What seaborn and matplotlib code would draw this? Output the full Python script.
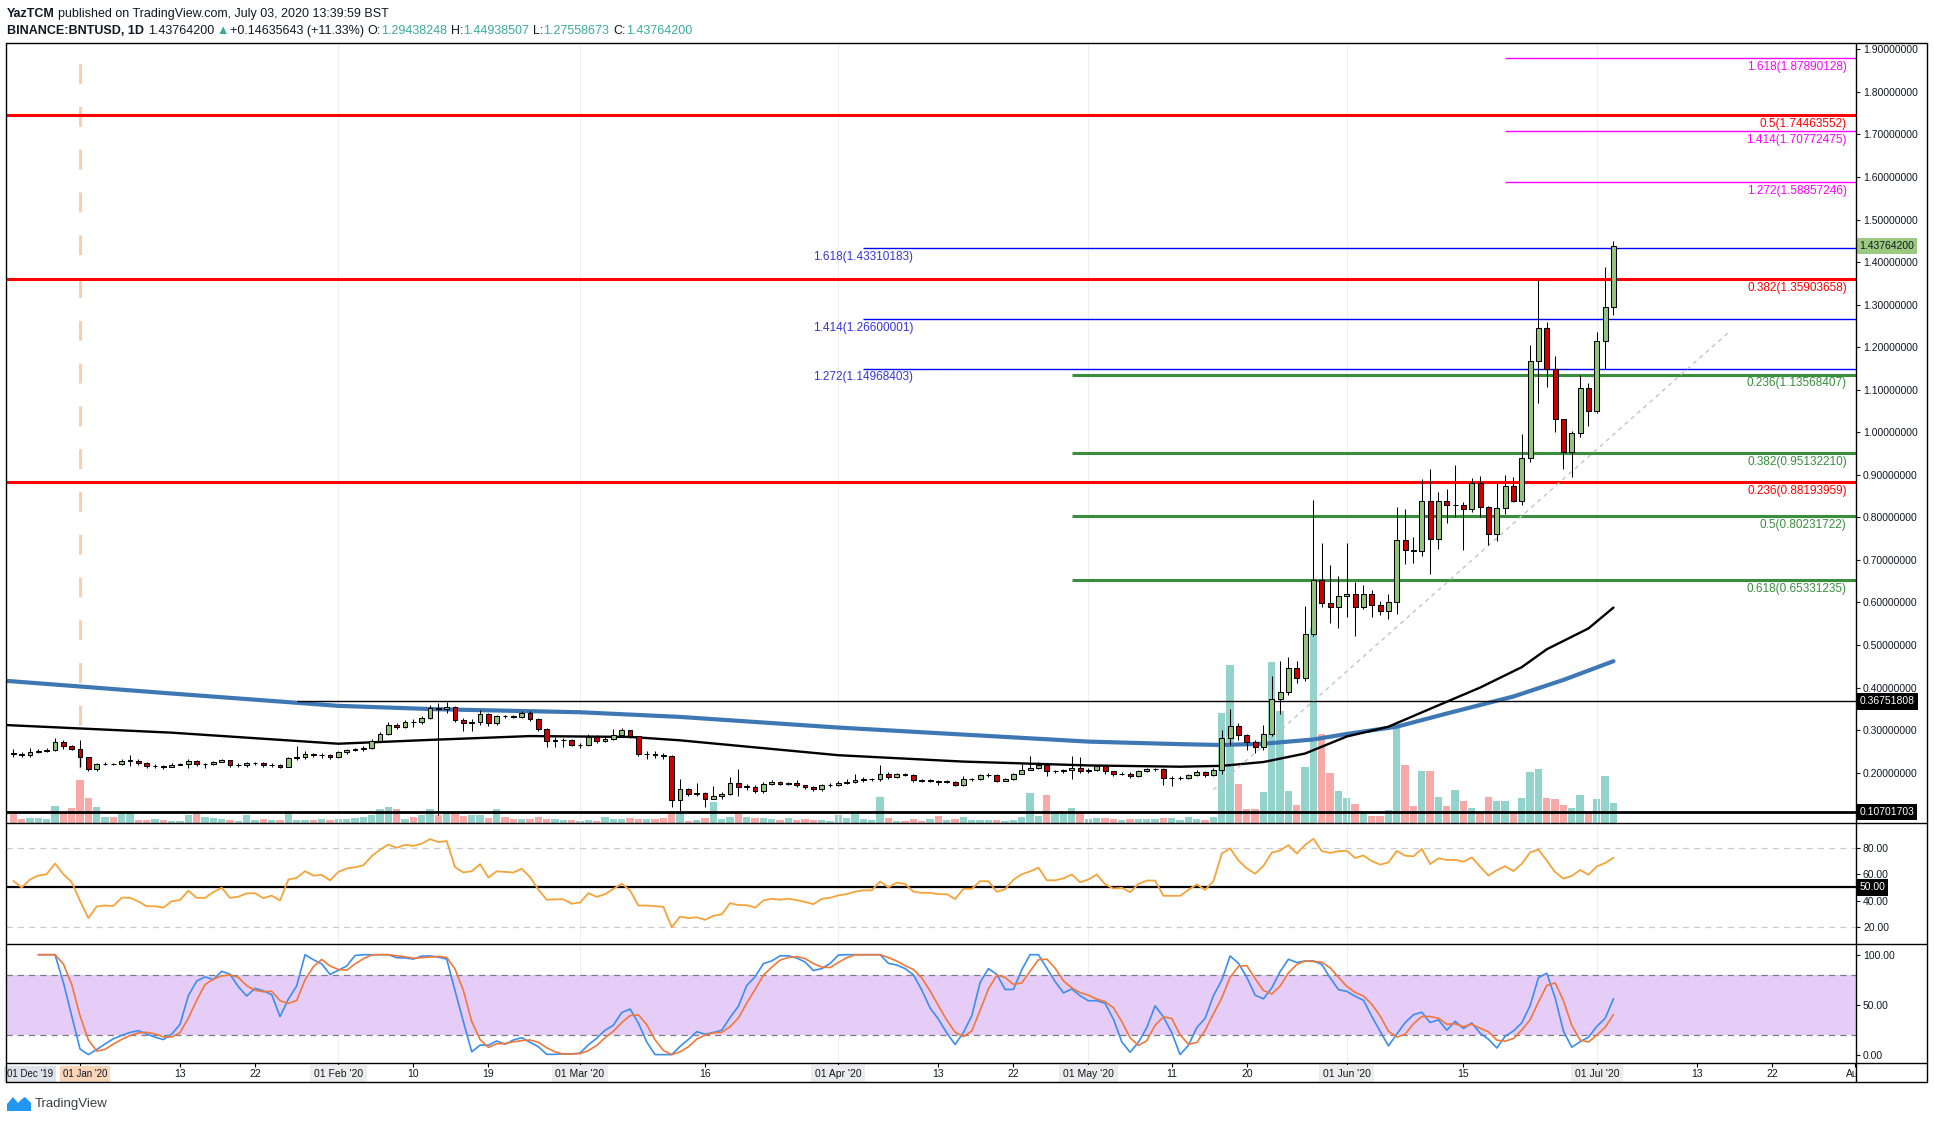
"""
BNT/USD daily chart (TradingView style) rebuilt with matplotlib + seaborn
"""
import datetime as dt
import numpy as np
import pandas as pd
import matplotlib
matplotlib.use("Agg")
import matplotlib.pyplot as plt
import matplotlib.dates as mdates
import matplotlib.transforms as mtransforms
from matplotlib.lines import Line2D
from matplotlib.patches import Polygon
import seaborn as sns

# ---------------- data ----------------
START = "2019-12-24"
FIRST_OPEN = 0.247

closes = [
    0.245, 0.241, 0.248, 0.252, 0.253, 0.272, 0.263, 0.256,  # Dec 24-31
    0.236, 0.208, 0.220, 0.221, 0.220, 0.228, 0.228, 0.223, 0.216, 0.216, 0.214, 0.219, 0.220, 0.228, 0.220, 0.220,
    0.225, 0.229, 0.218, 0.219, 0.222, 0.222, 0.217, 0.219, 0.214, 0.234, 0.236, 0.245, 0.241, 0.242, 0.237,  # Jan
    0.248, 0.253, 0.255, 0.258, 0.275, 0.292, 0.311, 0.308, 0.320, 0.319, 0.328, 0.352, 0.349, 0.355, 0.324,
    0.316, 0.319, 0.338, 0.316, 0.333, 0.332, 0.331, 0.341, 0.327, 0.302, 0.275, 0.276, 0.276, 0.264,  # Feb
    0.266, 0.283, 0.274, 0.279, 0.289, 0.300, 0.286, 0.244, 0.244, 0.242, 0.240, 0.136, 0.161, 0.151, 0.153, 0.137,
    0.146, 0.149, 0.175, 0.167, 0.167, 0.157, 0.173, 0.177, 0.174, 0.176, 0.172, 0.167, 0.161, 0.170, 0.172,  # Mar
    0.176, 0.178, 0.182, 0.184, 0.184, 0.198, 0.189, 0.197, 0.195, 0.183, 0.181, 0.181, 0.179, 0.179, 0.172,
    0.184, 0.184, 0.194, 0.194, 0.181, 0.184, 0.197, 0.206, 0.211, 0.218, 0.203, 0.203, 0.206, 0.212, 0.203,  # Apr
    0.207, 0.215, 0.203, 0.197, 0.198, 0.192, 0.203, 0.208, 0.208, 0.187, 0.187, 0.187, 0.194, 0.201, 0.194, 0.206,
    0.281, 0.310, 0.288, 0.272, 0.260, 0.291, 0.372, 0.390, 0.446, 0.422, 0.527, 0.653, 0.598, 0.590, 0.615,  # May
    0.621, 0.590, 0.620, 0.595, 0.579, 0.600, 0.747, 0.723, 0.720, 0.839, 0.750, 0.839, 0.828, 0.830, 0.819,
    0.880, 0.824, 0.762, 0.823, 0.874, 0.839, 0.939, 1.167, 1.245, 1.149, 1.030, 0.954, 0.998, 1.104, 1.049,  # Jun
    1.214, 1.294, 1.4376,  # Jul
]
highs = [
    0.256, 0.248, 0.259, 0.255, 0.257, 0.281, 0.277, 0.266,
    0.277, 0.237, 0.223, 0.224, 0.223, 0.233, 0.242, 0.233, 0.225, 0.220, 0.219, 0.222, 0.223, 0.233, 0.230, 0.223,
    0.228, 0.232, 0.230, 0.222, 0.225, 0.225, 0.224, 0.222, 0.221, 0.236, 0.262, 0.250, 0.247, 0.246, 0.244,
    0.251, 0.256, 0.258, 0.262, 0.278, 0.296, 0.318, 0.316, 0.324, 0.326, 0.333, 0.360, 0.363, 0.366, 0.357,
    0.328, 0.325, 0.348, 0.341, 0.336, 0.335, 0.336, 0.345, 0.344, 0.329, 0.304, 0.284, 0.281, 0.280,
    0.270, 0.290, 0.288, 0.286, 0.302, 0.305, 0.301, 0.287, 0.252, 0.250, 0.246, 0.242, 0.186, 0.164, 0.175, 0.155,
    0.168, 0.154, 0.190, 0.208, 0.173, 0.170, 0.177, 0.182, 0.180, 0.179, 0.182, 0.172, 0.168, 0.174, 0.175,
    0.180, 0.186, 0.196, 0.189, 0.187, 0.219, 0.201, 0.200, 0.199, 0.196, 0.185, 0.186, 0.183, 0.183, 0.181,
    0.191, 0.187, 0.197, 0.200, 0.196, 0.187, 0.199, 0.220, 0.240, 0.226, 0.220, 0.207, 0.209, 0.240, 0.236,
    0.211, 0.218, 0.217, 0.205, 0.201, 0.201, 0.206, 0.212, 0.212, 0.210, 0.192, 0.191, 0.196, 0.206, 0.204, 0.210,
    0.300, 0.350, 0.316, 0.292, 0.277, 0.313, 0.427, 0.463, 0.471, 0.463, 0.592, 0.841, 0.739, 0.688, 0.662,
    0.739, 0.648, 0.640, 0.630, 0.603, 0.620, 0.825, 0.820, 0.755, 0.891, 0.914, 0.859, 0.867, 0.922, 0.836,
    0.892, 0.897, 0.826, 0.880, 0.899, 0.894, 0.997, 1.204, 1.358, 1.259, 1.179, 1.030, 1.003, 1.134, 1.115,
    1.236, 1.388, 1.4494,
]
lows = [
    0.236, 0.237, 0.236, 0.246, 0.249, 0.252, 0.256, 0.253,
    0.214, 0.203, 0.204, 0.218, 0.217, 0.219, 0.215, 0.219, 0.211, 0.212, 0.209, 0.213, 0.217, 0.211, 0.216, 0.212,
    0.219, 0.224, 0.213, 0.214, 0.214, 0.218, 0.213, 0.213, 0.210, 0.213, 0.230, 0.232, 0.236, 0.235, 0.232,
    0.235, 0.245, 0.251, 0.252, 0.255, 0.272, 0.288, 0.302, 0.305, 0.307, 0.315, 0.325, 0.100, 0.340, 0.318,
    0.298, 0.298, 0.312, 0.310, 0.313, 0.328, 0.328, 0.329, 0.322, 0.297, 0.260, 0.260, 0.260, 0.262,
    0.258, 0.262, 0.270, 0.272, 0.277, 0.285, 0.282, 0.240, 0.232, 0.235, 0.232, 0.120, 0.110, 0.146, 0.144, 0.120,
    0.137, 0.138, 0.147, 0.145, 0.160, 0.152, 0.153, 0.170, 0.170, 0.170, 0.167, 0.162, 0.157, 0.158, 0.167,
    0.168, 0.173, 0.175, 0.179, 0.180, 0.180, 0.186, 0.188, 0.191, 0.178, 0.178, 0.178, 0.172, 0.175, 0.169,
    0.168, 0.180, 0.183, 0.189, 0.178, 0.181, 0.183, 0.196, 0.206, 0.209, 0.193, 0.199, 0.200, 0.184, 0.199,
    0.200, 0.205, 0.196, 0.191, 0.194, 0.188, 0.190, 0.201, 0.203, 0.171, 0.168, 0.183, 0.184, 0.191, 0.190, 0.193,
    0.198, 0.264, 0.277, 0.253, 0.247, 0.253, 0.286, 0.339, 0.382, 0.410, 0.415, 0.520, 0.590, 0.552, 0.540,
    0.567, 0.520, 0.585, 0.567, 0.570, 0.562, 0.573, 0.690, 0.693, 0.709, 0.668, 0.726, 0.786, 0.800, 0.723,
    0.812, 0.800, 0.734, 0.745, 0.808, 0.835, 0.830, 0.930, 1.069, 1.107, 1.000, 0.914, 0.894, 0.990, 1.015,
    1.045, 1.148, 1.2756,
]
volumes = [
    9, 4, 5, 5, 4, 17, 10, 15,
    43, 25, 16, 6, 6, 9, 10, 3, 3, 4, 3, 2, 2, 8, 9, 6, 5, 4, 3, 2, 8, 3, 4, 3, 3, 9, 3, 3, 3, 4, 3,
    4, 4, 5, 6, 8, 14, 16, 14, 4, 6, 8, 14, 8, 10, 10, 7, 8, 8, 5, 14, 6, 4, 4, 4, 6, 4, 4, 3, 3,
    2, 3, 2, 6, 4, 4, 5, 4, 4, 4, 5, 10, 10, 2, 3, 5, 21, 4, 6, 9, 6, 5, 5, 4, 3, 5, 3, 4, 3, 3, 2,
    8, 5, 9, 4, 3, 26, 5, 2, 2, 4, 2, 4, 7, 3, 4, 6, 3, 3, 3, 3, 2, 3, 6, 30, 7, 28, 10, 9, 15, 10,
    4, 5, 5, 4, 3, 4, 4, 4, 4, 5, 5, 3, 6, 4, 3, 6, 110, 158, 39, 14, 14, 31, 161, 112, 32, 18, 56, 195, 89, 50, 32,
    25, 19, 11, 7, 7, 13, 96, 58, 17, 52, 52, 26, 17, 33, 22, 15, 11, 26, 22, 22, 11, 25, 51, 54, 25, 24, 18, 15, 28, 11,
    24, 47, 20,
]

# RSI for the first days on screen (Dec 24 - Jan 2):
# the visible closes are too short a history to warm the indicator up
rsi_start = [55, 50, 56, 59, 60, 68, 60, 54, 40, 27]

# moving averages, read at a handful of dates
ma_blue_dates = ["2019-12-23", "2020-01-12", "2020-02-01", "2020-02-13", "2020-03-01", "2020-03-13",
                 "2020-04-01", "2020-05-01", "2020-05-12", "2020-05-17", "2020-05-22", "2020-05-28",
                 "2020-06-01", "2020-06-07", "2020-06-13", "2020-06-21", "2020-06-27", "2020-07-03"]
ma_blue_vals = [0.416, 0.386, 0.357, 0.349, 0.342, 0.331, 0.306, 0.273, 0.267, 0.265, 0.268, 0.278,
                0.291, 0.308, 0.339, 0.379, 0.418, 0.462]
ma_black_dates = ["2019-12-23", "2020-01-12", "2020-02-01", "2020-02-12", "2020-02-24", "2020-03-07",
                  "2020-03-13", "2020-04-01", "2020-04-16", "2020-05-01", "2020-05-12", "2020-05-17",
                  "2020-05-22", "2020-05-27", "2020-06-01", "2020-06-06", "2020-06-11", "2020-06-17",
                  "2020-06-22", "2020-06-25", "2020-06-30", "2020-07-03"]
ma_black_vals = [0.312, 0.294, 0.268, 0.277, 0.286, 0.284, 0.276, 0.241, 0.226, 0.217, 0.214, 0.216,
                 0.225, 0.245, 0.285, 0.308, 0.350, 0.400, 0.448, 0.490, 0.539, 0.588]

# fib levels drawn on the chart
red_levels = [1.74463552, 1.35903658, 0.88193959]
red_ratios = ["0.5", "0.382", "0.236"]
magenta_levels = [1.87890128, 1.70772475, 1.58857246]
magenta_ratios = ["1.618", "1.414", "1.272"]
blue_levels = [1.43310183, 1.26600001, 1.14968403]
blue_ratios = ["1.618", "1.414", "1.272"]
green_levels = [0.65331235, 0.80231722, 0.95132210, 1.13568407]
green_ratios = ["0.618", "0.5", "0.382", "0.236"]
resist_level = 0.36751808
floor_level = 0.10701703
trend_dates = ["2020-05-16", "2020-07-17"]
trend_vals = [0.16, 1.238]

price_ticks = [0.2, 0.3, 0.4, 0.5, 0.6, 0.7, 0.8, 0.9, 1.0, 1.1, 1.2, 1.3, 1.4, 1.5, 1.6, 1.7, 1.8, 1.9]

# ---------------- styling ----------------
sns.set_style("white")
plt.rcParams["font.family"] = ["Liberation Sans", "DejaVu Sans"]
TXT = "#131722"
UP, DOWN = "#93C47D", "#CC0000"
VOL_UP, VOL_DOWN = "#94D3CC", "#F7A9A8"
TEAL = "#3BAA9E"
AXFS = 7.5

W, H = 1934, 1122
fig = plt.figure(figsize=(W / 100, H / 100), dpi=100)
fig.patch.set_facecolor("white")


def box(x0, y0, x1, y1):
    return [x0 / W, 1 - y1 / H, (x1 - x0) / W, (y1 - y0) / H]


ax_p = fig.add_axes(box(6, 43, 1856, 823))
ax_v = ax_p.twinx()
ax_r = fig.add_axes(box(6, 823, 1856, 944))
ax_s = fig.add_axes(box(6, 944, 1856, 1063))
ax_x = fig.add_axes(box(6, 1063, 1856, 1082))

ax_v.set_zorder(0)
ax_p.set_zorder(1)
ax_p.patch.set_visible(False)

dates = pd.date_range(START, periods=len(closes), freq="D")
xs = mdates.date2num(dates.to_pydatetime())
jan1 = mdates.date2num(dt.datetime(2020, 1, 1))
xlim = (jan1 - 8.88, jan1 + 213.1)


def dnum(s):
    return mdates.date2num(pd.Timestamp(s).to_pydatetime())


opens = np.array([FIRST_OPEN] + closes[:-1])
c = np.array(closes)
is_up = c >= opens

# ---------------- volume ----------------
ax_v.bar(xs, volumes, width=0.88, color=np.where(is_up, VOL_UP, VOL_DOWN), linewidth=0)
ax_v.set_ylim(0, 780)
ax_v.set_xlim(*xlim)
ax_v.axis("off")

# ---------------- price pane ----------------
months = [dnum(f"2020-{m:02d}-01") for m in range(2, 8)]
for m in months:
    ax_p.axvline(m, color="#EFEFEF", lw=0.8, zorder=0)
ax_p.axvline(jan1, ymin=0.07, ymax=1, color="#F7CFAE", lw=2.2, dashes=(6.5, 7.5), zorder=1)

sns.lineplot(x=[dnum(d) for d in ma_blue_dates], y=ma_blue_vals, ax=ax_p,
             color="#3D78B4", linewidth=3.0, estimator=None, legend=False)
sns.lineplot(x=[dnum(d) for d in ma_black_dates], y=ma_black_vals, ax=ax_p,
             color="black", linewidth=1.7, estimator=None, legend=False)

blend_p = mtransforms.blended_transform_factory(ax_p.transAxes, ax_p.transData)


def fib_label(lvl, ratio, color, x=0.995, ha="right", trans=blend_p):
    ax_p.annotate(f"{ratio}({lvl:.8f})", xy=(x, lvl), xycoords=trans, xytext=(0, -2),
                  textcoords="offset points", ha=ha, va="top", color=color, fontsize=8.5, zorder=6)


for lvl, r in zip(red_levels, red_ratios):
    ax_p.axhline(lvl, color="#FF0000", lw=2.2, zorder=2)
    fib_label(lvl, r, "#FF0000")
for lvl, r in zip(magenta_levels, magenta_ratios):
    ax_p.hlines(lvl, dnum("2020-06-20"), xlim[1], color="#FF00FF", lw=1.0, zorder=2)
    fib_label(lvl, r, "#FF00FF")
for lvl, r in zip(blue_levels, blue_ratios):
    ax_p.hlines(lvl, dnum("2020-04-04"), xlim[1], color="#0000FF", lw=1.0, zorder=2)
    fib_label(lvl, r, "#3535D8", x=dnum("2020-03-29"), ha="left", trans=ax_p.transData)
for lvl, r in zip(green_levels, green_ratios):
    ax_p.hlines(lvl, dnum("2020-04-29"), xlim[1], color="#388E3C", lw=2.2, zorder=2)
    fib_label(lvl, r, "#388E3C")

ax_p.hlines(resist_level, dnum("2020-01-27"), xlim[1], color="black", lw=1.0, zorder=2)
ax_p.axhline(floor_level, color="black", lw=2.0, zorder=2)
ax_p.plot([dnum(d) for d in trend_dates], trend_vals, color="#C4C4C4", lw=1.0, dashes=(3, 3), zorder=2)

# candles
body_lo = np.minimum(opens, c)
body_h = np.maximum(np.abs(c - opens), 0.0008)
ax_p.vlines(xs, lows, highs, color="black", lw=0.75, zorder=4)
ax_p.bar(xs, body_h, bottom=body_lo, width=0.58, color=np.where(is_up, UP, DOWN),
         edgecolor="black", linewidth=0.75, zorder=5)

ax_p.set_xlim(*xlim)
ax_p.set_ylim(0.0817, 1.9148)
ax_p.yaxis.tick_right()
ax_p.set_yticks(price_ticks)
ax_p.set_yticklabels([f"{t:.8f}" for t in price_ticks])


def axis_tag(ax, y, text, bg, fg):
    tr = mtransforms.blended_transform_factory(ax.transAxes, ax.transData)
    ax.annotate(text, xy=(1, y), xycoords=tr, xytext=(2.5, 0), textcoords="offset points",
                ha="left", va="center", fontsize=AXFS, color=fg, annotation_clip=False, zorder=10,
                bbox=dict(boxstyle="square,pad=0.3", fc=bg, ec="none"))


axis_tag(ax_p, closes[-1], "1.43764200", "#9BC97F", TXT)
axis_tag(ax_p, resist_level, f"{resist_level:.8f}", "black", "white")
axis_tag(ax_p, floor_level, f"{floor_level:.8f}", "black", "white")

# ---------------- RSI + Stoch RSI (computed from the closes) ----------------
cl = pd.Series(closes)
delta = cl.diff()
avg_up = delta.clip(lower=0).ewm(alpha=1 / 14, adjust=True).mean()
avg_dn = (-delta.clip(upper=0)).ewm(alpha=1 / 14, adjust=True).mean()
rsi = 100 - 100 / (1 + avg_up / avg_dn)
rsi.iloc[:2] = np.nan
r_lo = rsi.rolling(14, min_periods=1).min()
r_hi = rsi.rolling(14, min_periods=1).max()
stoch = 100 * (rsi - r_lo) / (r_hi - r_lo)
k_line = stoch.rolling(3, min_periods=1).mean()
d_line = k_line.rolling(3, min_periods=1).mean()

rsi_shown = rsi.copy()
rsi_shown.iloc[:len(rsi_start)] = rsi_start

for m in months:
    ax_r.axvline(m, color="#EFEFEF", lw=0.8, zorder=0)
    ax_s.axvline(m, color="#EFEFEF", lw=0.8, zorder=0)

ax_r.axhline(80, color="#C9CBD0", lw=0.9, dashes=(5, 4))
ax_r.axhline(20, color="#C9CBD0", lw=0.9, dashes=(5, 4))
ax_r.axhline(50, color="black", lw=1.6)
sns.lineplot(x=xs, y=rsi_shown.values, ax=ax_r, color="#F5A33B", linewidth=1.3, estimator=None, legend=False)
ax_r.set_xlim(*xlim)
ax_r.set_ylim(7.5, 98.5)
ax_r.yaxis.tick_right()
ax_r.set_yticks([20, 40, 60, 80])
ax_r.set_yticklabels(["20.00", "40.00", "60.00", "80.00"])
axis_tag(ax_r, 50, "50.00", "black", "white")

ax_s.axhspan(20, 80, color="#E6CDF8", lw=0, zorder=0)
ax_s.axhline(80, color="#787B86", lw=0.9, dashes=(5, 4))
ax_s.axhline(20, color="#787B86", lw=0.9, dashes=(5, 4))
sns.lineplot(x=xs, y=k_line.values, ax=ax_s, color="#3A8EF0", linewidth=1.2, estimator=None, legend=False)
sns.lineplot(x=xs, y=d_line.values, ax=ax_s, color="#F0783A", linewidth=1.2, estimator=None, legend=False)
ax_s.set_xlim(*xlim)
ax_s.set_ylim(-8.4, 110.7)
ax_s.yaxis.tick_right()
ax_s.set_yticks([0, 50, 100])
ax_s.set_yticklabels(["0.00", "50.00", "100.00"])

for ax in (ax_p, ax_r, ax_s, ax_x):
    for sp in ax.spines.values():
        sp.set_visible(False)
    ax.set_xlabel("")
    ax.set_ylabel("")
    ax.tick_params(axis="x", bottom=False, labelbottom=False)
    ax.tick_params(axis="y", direction="out", length=3, width=0.8, pad=2, labelsize=AXFS, colors=TXT)

# ---------------- time axis ----------------
ax_x.set_xlim(*xlim)
ax_x.set_ylim(0, 1)
ax_x.set_yticks([])
day_ticks = [("2020-01-13", "13"), ("2020-01-22", "22"), ("2020-02-10", "10"), ("2020-02-19", "19"),
             ("2020-03-16", "16"), ("2020-04-13", "13"), ("2020-04-22", "22"), ("2020-05-11", "11"),
             ("2020-05-20", "20"), ("2020-06-15", "15"), ("2020-07-13", "13"), ("2020-07-22", "22")]
month_ticks = [("2020-02-01", "01 Feb '20"), ("2020-03-01", "01 Mar '20"), ("2020-04-01", "01 Apr '20"),
               ("2020-05-01", "01 May '20"), ("2020-06-01", "01 Jun '20"), ("2020-07-01", "01 Jul '20")]
tick_x = [dnum(d) for d, _ in day_ticks + month_ticks] + [jan1, dnum("2020-08-01")]
ax_x.vlines(tick_x, 0.8, 1.0, color="black", lw=0.8)
for d, lab in day_ticks:
    ax_x.text(dnum(d), 0.42, lab, ha="center", va="center", fontsize=AXFS, color=TXT)
for d, lab in month_ticks:
    ax_x.text(dnum(d), 0.42, lab, ha="center", va="center", fontsize=AXFS, color=TXT,
              bbox=dict(boxstyle="square,pad=0.35", fc="#EDEDED", ec="none"))
ax_x.text(dnum("2020-08-01"), 0.42, "Aug", ha="center", va="center", fontsize=AXFS, color=TXT, clip_on=True)
ax_x.text(0.0005, 0.42, "01 Dec '19", transform=ax_x.transAxes, ha="left", va="center", fontsize=7,
          color=TXT, bbox=dict(boxstyle="square,pad=0.3", fc="#DDE3E8", ec="none"))
ax_x.text(jan1 + 0.6, 0.42, "01 Jan '20", ha="center", va="center", fontsize=7, color=TXT,
          bbox=dict(boxstyle="square,pad=0.3", fc="#F9D6BA", ec="none"))

# ---------------- frame lines ----------------


def fline(x0, y0, x1, y1, lw=1.0):
    fig.add_artist(Line2D([x0 / W, x1 / W], [1 - y0 / H, 1 - y1 / H], color="black", lw=lw))


fline(6, 43, 1927, 43)
fline(6, 1082, 1927, 1082)
fline(6, 43, 6, 1082)
fline(1927, 43, 1927, 1082)
fline(1856, 43, 1856, 1082)
for yy in (823, 944, 1063):
    fline(6, yy, 1927, yy)

# ---------------- header + footer ----------------
renderer = fig.canvas.get_renderer()


def chain(x, y, parts, size=9):
    for text, color, weight, gap in parts:
        t = fig.text(x / W, 1 - y / H, text, color=color, fontsize=size, fontweight=weight,
                     ha="left", va="center")
        bb = t.get_window_extent(renderer)
        x = bb.x1 + gap


chain(7, 14, [("YazTCM", TXT, "bold", 3),
              ("published on TradingView.com, July 03, 2020 13:39:59 BST", TXT, "normal", 0)])
chain(7, 31, [("BINANCE:BNTUSD, 1D", TXT, "bold", 4), ("1.43764200", TXT, "normal", 2),
              ("▲", TEAL, "normal", 1), ("+0.14635643 (+11.33%)", TXT, "normal", 4),
              ("O:", TXT, "normal", 0), ("1.29438248", TEAL, "normal", 4),
              ("H:", TXT, "normal", 0), ("1.44938507", TEAL, "normal", 4),
              ("L:", TXT, "normal", 0), ("1.27558673", TEAL, "normal", 4),
              ("C:", TXT, "normal", 0), ("1.43764200", TEAL, "normal", 0)])

logo = [(7, 1111), (7, 1104), (13, 1097), (18, 1103), (22, 1099), (25, 1097), (31, 1103), (31, 1111)]
fig.add_artist(Polygon([(px / W, 1 - py / H) for px, py in logo], closed=True,
                       fc="#2196F3", ec="none", transform=fig.transFigure))
fig.text(35 / W, 1 - 1104 / H, "TradingView", fontsize=9.5, color="#3C3F45", ha="left", va="center")

fig.savefig("out.png", dpi=100, facecolor="white")
